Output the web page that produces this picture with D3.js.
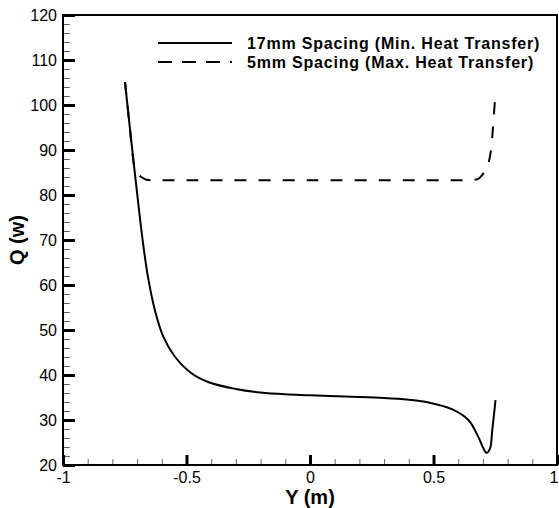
<!DOCTYPE html>
<html>
<head>
<meta charset="utf-8">
<script src="https://cdn.jsdelivr.net/npm/d3@7"></script>
<style>
    body { margin: 0; background: #fff; }
    svg { display: block; font-family: "Liberation Sans", Arial, sans-serif; }
</style>
</head>
<body>
<svg id="chart" width="559" height="508"></svg>
<script>
// valeurs
const yMajor = [20, 30, 40, 50, 60, 70, 80, 90, 100, 110, 120];
const yMinor = d3.range(20, 121, 2).filter(v => v % 10 !== 0);
const xMajor = [-1, -0.5, 0, 0.5, 1];
const xMajorLabels = ["-1", "-0.5", "0", "0.5", "1"];
const xMinor = d3.range(-10, 11).filter(v => v % 5 !== 0).map(v => v / 10);

// 17mm spacing (trait plein)
const solidY = [-0.749, -0.732, -0.715, -0.7, -0.676, -0.656, -0.628, -0.593, -0.546, -0.48, -0.41,
    -0.3, -0.2, -0.1, 0, 0.144, 0.3, 0.4, 0.48, 0.574, 0.641, 0.681, 0.702, 0.715, 0.729, 0.738, 0.746, 0.751];
const solidQ = [105.1, 96.3, 87.8, 80.4, 69.3, 61.8, 54.4, 48.4, 44.0, 40.4, 38.4,
    36.9, 36.1, 35.7, 35.5, 35.2, 34.9, 34.5, 33.9, 32.4, 30.0, 26.3, 23.7, 22.7, 23.7, 27.8, 31.8, 34.4];

// 5mm spacing (tirets)
const dashY = [-0.749, -0.732, -0.717, -0.708, -0.695, -0.683, -0.662, -0.6, 0, 0.6, 0.628,
    0.665, 0.681, 0.692, 0.702, 0.713, 0.722, 0.731, 0.738, 0.744, 0.75];
const dashQ = [105.1, 96.3, 88.4, 85.6, 84.5, 84.0, 83.4, 83.3, 83.3, 83.3, 83.3,
    83.4, 83.6, 84.1, 84.8, 85.8, 87.0, 89.3, 93, 97.5, 102];

const seriesNames = ["17mm Spacing (Min. Heat Transfer)", "5mm Spacing (Max. Heat Transfer)"];

const svg = d3.select("#chart");
const plotL = 63, plotR = 557, plotT = 15, plotB = 465;
const FONT = "'Liberation Sans', Arial, sans-serif";

const x = d3.scaleLinear().domain([-1, 1]).range([plotL, plotR]);
const y = d3.scaleLinear().domain([20, 120]).range([plotB, plotT]);

// ticks mineurs
svg.append("g")
    .attr("transform", `translate(${plotL},0)`)
    .call(d3.axisLeft(y).tickValues(yMinor).tickSize(-7).tickFormat(""))
    .call(g => g.select(".domain").remove())
    .call(g => g.selectAll("line").attr("stroke", "#666").attr("stroke-width", 1));

svg.append("g")
    .attr("transform", `translate(0,${plotB})`)
    .call(d3.axisBottom(x).tickValues(xMinor).tickSize(-6).tickFormat(""))
    .call(g => g.select(".domain").remove())
    .call(g => g.selectAll("line").attr("stroke", "#666").attr("stroke-width", 1));

// ticks majeurs
svg.append("g")
    .attr("transform", `translate(${plotL},0)`)
    .call(d3.axisLeft(y).tickValues(yMajor).tickSize(-12).tickPadding(6).tickFormat(d3.format("d")))
    .call(g => g.select(".domain").remove())
    .call(g => g.selectAll("line").attr("stroke", "#000").attr("stroke-width", 3))
    .call(g => g.selectAll("text").attr("font-size", 16).attr("fill", "#000").attr("font-family", FONT));

svg.append("g")
    .attr("transform", `translate(0,${plotB})`)
    .call(d3.axisBottom(x).tickValues(xMajor).tickSize(-10).tickPadding(7)
        .tickFormat((d, i) => xMajorLabels[i]))
    .call(g => g.select(".domain").remove())
    .call(g => g.selectAll("line").attr("stroke", "#000").attr("stroke-width", 3))
    .call(g => g.selectAll("text").attr("font-size", 16).attr("fill", "#000").attr("font-family", FONT))
    // le dernier libellé touche le bord droit
    .call(g => g.selectAll("text").filter(d => d === 1).attr("text-anchor", "end").attr("x", 1));

// cadre
svg.append("rect")
    .attr("x", plotL).attr("y", plotT)
    .attr("width", plotR - plotL).attr("height", plotB - plotT)
    .attr("fill", "none")
    .attr("stroke", "#000")
    .attr("stroke-width", 2);

// courbes
const line = d3.line()
    .x(d => x(d[0]))
    .y(d => y(d[1]))
    .curve(d3.curveCatmullRom.alpha(0.5));

svg.append("path")
    .datum(solidY.map((v, i) => [v, solidQ[i]]))
    .attr("fill", "none")
    .attr("stroke", "#000")
    .attr("stroke-width", 2)
    .attr("d", line);

svg.append("path")
    .datum(dashY.map((v, i) => [v, dashQ[i]]))
    .attr("fill", "none")
    .attr("stroke", "#000")
    .attr("stroke-width", 2)
    .attr("stroke-dasharray", "12,12")
    .attr("d", line);

// légende
const legend = svg.append("g");
[["none", 43], ["14,10", 62]].forEach(([dash, ly], i) => {
    legend.append("line")
        .attr("x1", 158).attr("x2", 232)
        .attr("y1", ly).attr("y2", ly)
        .attr("stroke", "#000")
        .attr("stroke-width", 2)
        .attr("stroke-dasharray", dash);
    legend.append("text")
        .attr("x", 247).attr("y", ly + 5.5)
        .attr("font-size", 16)
        .attr("font-weight", "bold")
        .attr("letter-spacing", 0.8)
        .text(seriesNames[i]);
});

// titres d'axes
svg.append("text")
    .attr("x", (plotL + plotR) / 2)
    .attr("y", 504)
    .attr("text-anchor", "middle")
    .attr("font-size", 20)
    .attr("font-weight", "bold")
    .text("Y (m)");

svg.append("text")
    .attr("transform", `translate(24,${(plotT + plotB) / 2}) rotate(-90)`)
    .attr("text-anchor", "middle")
    .attr("font-size", 20)
    .attr("font-weight", "bold")
    .text("Q (w)");
</script>
</body>
</html>
